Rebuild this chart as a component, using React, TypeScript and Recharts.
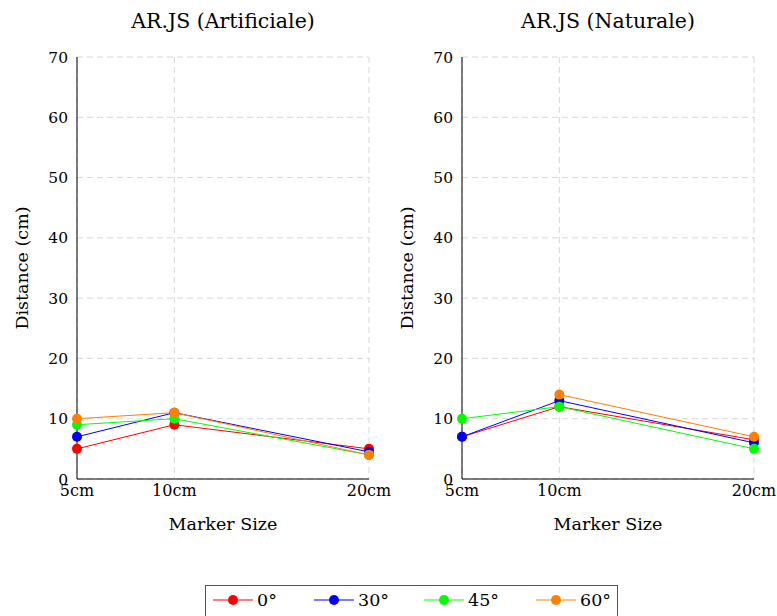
import { LineChart, Line, XAxis, YAxis, CartesianGrid, Label } from 'recharts';

const markerSizes = [5, 10, 20];
const angles = ['0°', '30°', '45°', '60°'];
const colors = ['#ff0000', '#0000ff', '#00ff00', '#ff8000'];

// AR.JS (Artificiale)
const artificiale0 = [5, 9, 5];
const artificiale30 = [7, 11, 4.5];
const artificiale45 = [9, 10, 4];
const artificiale60 = [10, 11, 4];

// AR.JS (Naturale)
const naturale0 = [7, 12, 6.5];
const naturale30 = [7, 13, 6];
const naturale45 = [10, 12, 5];
const naturale60 = [null, 14, 7];

const yTicks = [0, 10, 20, 30, 40, 50, 60, 70];

const FONT = '"DejaVu Serif", serif';

function buildRows(series: (number | null)[][]) {
  return markerSizes.map((size, i) => {
    const row: Record<string, number | null> = { size };
    series.forEach((s, k) => { row[`s${k}`] = s[i]; });
    return row;
  });
}

const yTickStyle = { fontSize: 15.5, fill: '#000', fontFamily: FONT };
const xTickStyle = { fontSize: 16, fill: '#000', fontFamily: FONT };
const labelStyle = { fontSize: 17.5, fill: '#000', fontFamily: FONT };

function Panel({ title, rows, left }: {
  title: string;
  rows: Record<string, number | null>[];
  left: number;
}) {
  const width = 400;
  return (
    <div style={{ position: 'absolute', left, top: 0, width, height: 545 }}>
      <div
        style={{
          position: 'absolute', left: 77, width: 292, top: 9, textAlign: 'center',
          fontFamily: FONT, fontSize: 20.5, color: '#000',
        }}
      >
        {title}
      </div>
      <LineChart width={width} height={545} data={rows} margin={{ top: 57, right: width - 369, bottom: 15, left: 0 }}>
        <CartesianGrid stroke="#d8d8d8" strokeDasharray="6 4" />
        <XAxis
          dataKey="size"
          type="number"
          domain={[5, 20]}
          ticks={markerSizes}
          tickFormatter={v => `${v}cm`}
          tick={xTickStyle}
          tickLine={false}
          tickSize={0}
          tickMargin={6}
          axisLine={{ stroke: '#000' }}
          height={51}
          interval={0}
        >
          <Label value="Marker Size" position="insideBottom" offset={0} style={labelStyle} />
        </XAxis>
        <XAxis xAxisId="top" orientation="top" dataKey="size" type="number" domain={[5, 20]} tick={false} tickLine={false} height={0} axisLine={{ stroke: '#000' }} />
        <YAxis
          domain={[0, 70]}
          ticks={yTicks}
          tick={yTickStyle}
          tickLine={false}
          tickSize={0}
          tickMargin={9}
          axisLine={{ stroke: '#000' }}
          width={77}
          interval={0}
        >
          <Label
            value="Distance (cm)"
            angle={-90}
            position="insideLeft"
            offset={22}
            style={{ ...labelStyle, textAnchor: 'middle' }}
          />
        </YAxis>
        <YAxis yAxisId="right" orientation="right" domain={[0, 70]} ticks={yTicks} tick={false} mirror tickSize={5} tickLine={{ stroke: '#999' }} width={0} axisLine={{ stroke: '#000' }} />
        {angles.map((a, k) => (
          <Line
            key={a}
            dataKey={`s${k}`}
            name={a}
            stroke={colors[k]}
            strokeWidth={1}
            dot={{ r: 5, fill: colors[k], stroke: 'none' }}
            activeDot={false}
            isAnimationActive={false}
          />
        ))}
      </LineChart>
    </div>
  );
}

function LegendBox() {
  const itemX = [212, 313, 423, 535];
  return (
    <div
      style={{
        position: 'absolute', left: 205, top: 585, width: 413, height: 40,
        border: '1px solid #555', boxSizing: 'border-box', background: '#fff',
      }}
    >
      {angles.map((a, k) => (
        <div key={a} style={{ position: 'absolute', left: itemX[k] - 205, top: 4, display: 'flex', alignItems: 'center' }}>
          <svg width={40} height={20}>
            <line x1={0} y1={10} x2={40} y2={10} stroke={colors[k]} strokeWidth={1} />
            <circle cx={20} cy={10} r={5} fill={colors[k]} />
          </svg>
          <span style={{ fontFamily: FONT, fontSize: 17.5, marginLeft: 4, color: '#000' }}>{a}</span>
        </div>
      ))}
    </div>
  );
}

export default function App() {
  const artRows = buildRows([artificiale0, artificiale30, artificiale45, artificiale60]);
  const natRows = buildRows([naturale0, naturale30, naturale45, naturale60]);
  return (
    <div style={{ position: 'absolute', left: 0, top: 0, width: 777, height: 616, overflow: 'hidden', background: '#fff' }}>
      <Panel title="AR.JS (Artificiale)" rows={artRows} left={0} />
      <Panel title="AR.JS (Naturale)" rows={natRows} left={385} />
      <LegendBox />
    </div>
  );
}
